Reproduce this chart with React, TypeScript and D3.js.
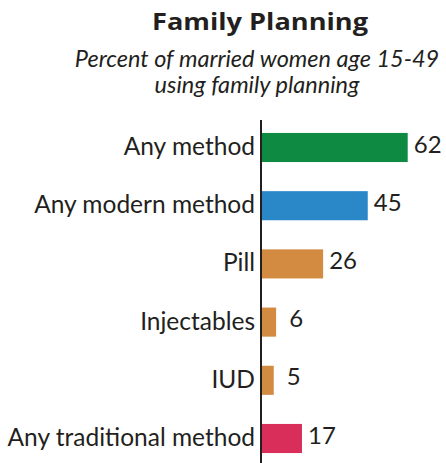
import React from "react";
import * as d3 from "d3";

const categories = ["Any method", "Any modern method", "Pill", "Injectables", "IUD", "Any traditional method"];
const values = [62, 45, 26, 6, 5, 17];
const colors = ["#0e8a43", "#2b88c8", "#d38b42", "#d38b42", "#d38b42", "#d92d5a"];
const title = "Family Planning";
const subtitle = ["Percent of married women age 15-49", "using family planning"];

export default function App() {
  const W = 446, H = 463;
  const x = d3.scaleLinear().domain([0, 100]).range([262, 262 + 235]);
  const y = d3.scaleBand<string>().domain(categories).range([118.4, 467.6]).paddingInner(0.5).paddingOuter(0.25);
  const font = "Lato, 'Open Sans', sans-serif";
  return (
    <svg width={W} height={H} style={{ position: "absolute", left: 0, top: 0 }} fontFamily={font}>
      <rect width={W} height={H} fill="#fff" />
      <text x={260} y={30} textAnchor="middle" fontWeight="bold" fontSize={23} fill="#231f20" fontFamily="'Open Sans', sans-serif" textLength={216} lengthAdjust="spacingAndGlyphs">{title}</text>
      {subtitle.map((s, i) => (
        <text key={i} x={257} y={67 + i * 26} textAnchor="middle" fontStyle="italic" fontSize={23.5} fill="#231f20">{s}</text>
      ))}
      {categories.map((c, i) => {
        const yc = (y(c) as number) + y.bandwidth() / 2;
        return (
          <g key={c}>
            <rect x={x(0)} y={y(c)} width={x(values[i]) - x(0)} height={y.bandwidth()} fill={colors[i]} />
            <text x={255} y={yc + 7.5} textAnchor="end" fontSize={24.5} fill="#231f20">{c}</text>
            <text x={x(values[i]) + 20} y={yc + 5} textAnchor="middle" fontSize={24} fill="#231f20">{values[i]}</text>
          </g>
        );
      })}
      <line x1={261} x2={261} y1={120} y2={H} stroke="#231f20" strokeWidth={2} />
    </svg>
  );
}
